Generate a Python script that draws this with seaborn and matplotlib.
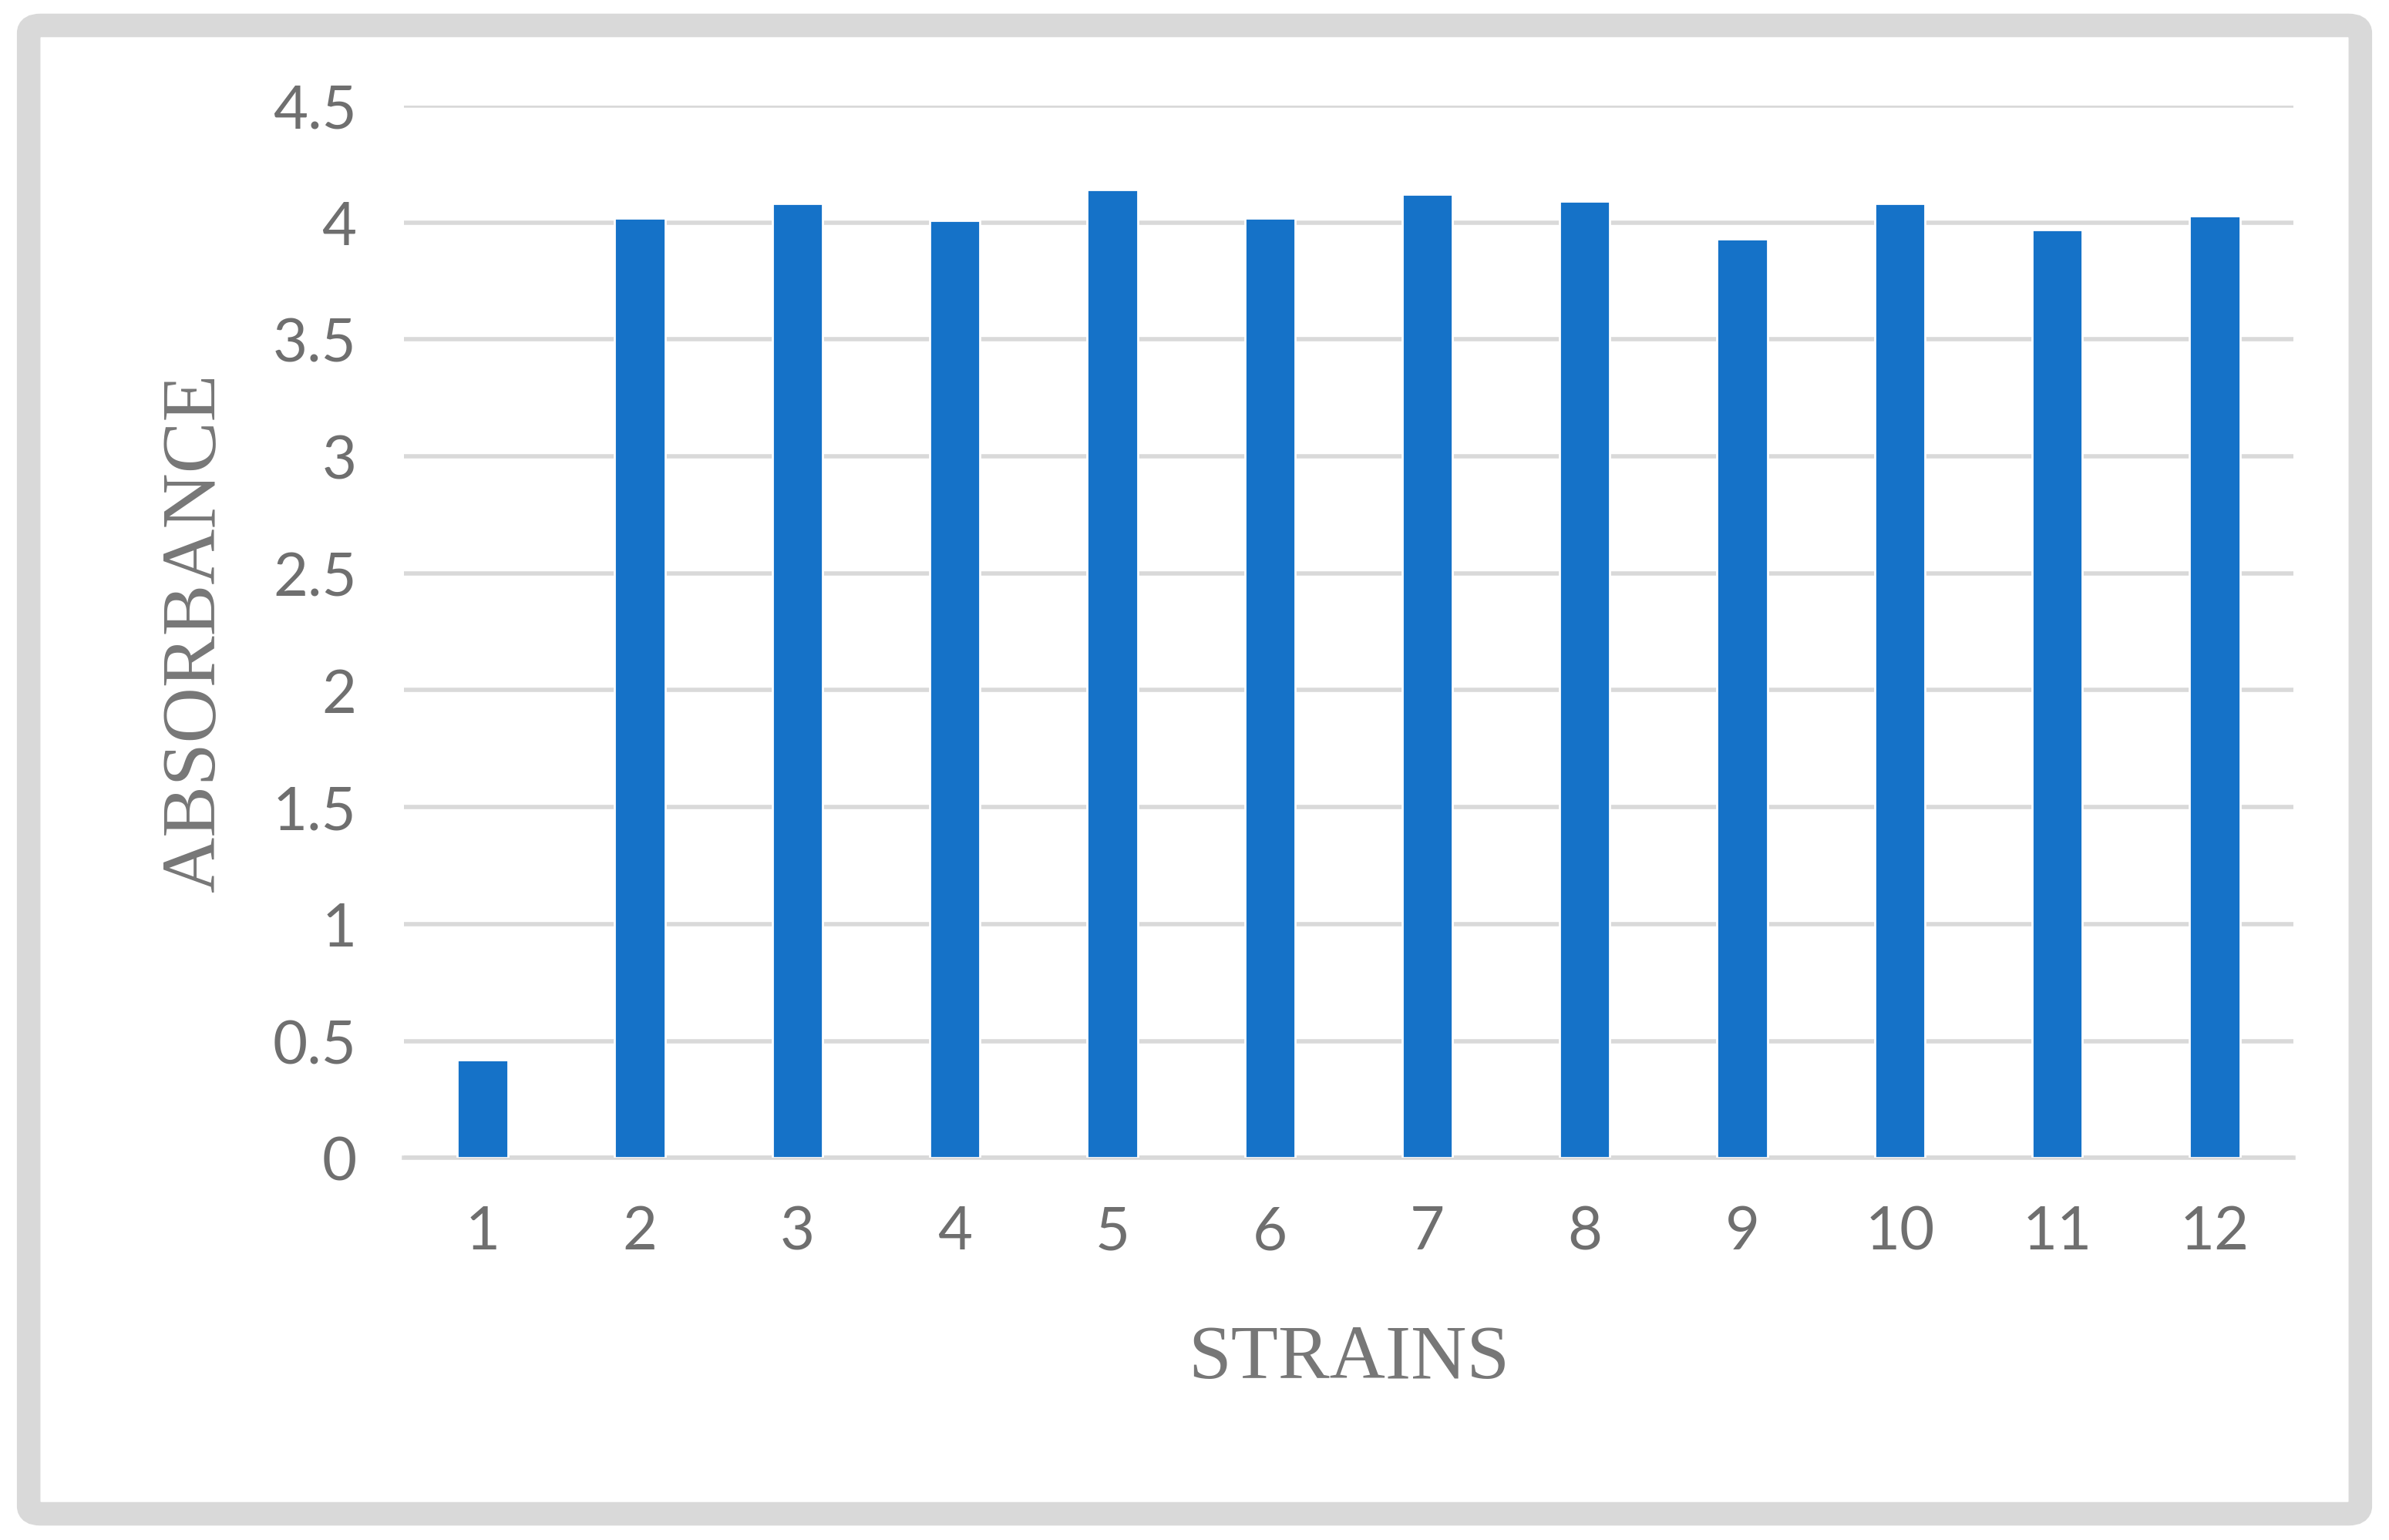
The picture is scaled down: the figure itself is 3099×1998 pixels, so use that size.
import matplotlib.pyplot as plt
import seaborn as sns
import pandas as pd
from matplotlib.patches import FancyBboxPatch

sns.set_style("white")

# Data
strains = ["1", "2", "3", "4", "5", "6", "7", "8", "9", "10", "11", "12"]
absorbance = [0.42, 4.02, 4.08, 4.01, 4.14, 4.02, 4.12, 4.09, 3.93, 4.08, 3.97, 4.03]
y_ticks = [0, 0.5, 1, 1.5, 2, 2.5, 3, 3.5, 4, 4.5]
y_tick_labels = ["0", "0.5", "1", "1.5", "2", "2.5", "3", "3.5", "4", "4.5"]

df = pd.DataFrame({"strain": strains, "absorbance": absorbance})

fig = plt.figure(figsize=(15.495, 9.995), dpi=200)

# grey frame around the whole chart
frame = FancyBboxPatch((0.012, 0.017), 0.976, 0.966, boxstyle="round,pad=0,rounding_size=0.005",
                       transform=fig.transFigure, facecolor="white", edgecolor="#d9d9d9",
                       linewidth=11, zorder=-10)
fig.patches.append(frame)

ax = fig.add_axes([0.169, 0.248, 0.791, 0.683])
ax.set_zorder(5)
ax.set_facecolor("none")
sns.barplot(data=df, x="strain", y="absorbance", color="#1572c8", saturation=1,
            width=0.32, ax=ax, zorder=3)

ax.set_ylim(0, 4.5)
ax.set_yticks(y_ticks)
ax.set_yticklabels(y_tick_labels)
ax.grid(axis="y", color="#d9d9d9", linewidth=2, zorder=0)
ax.set_axisbelow(True)
for s in ["top", "right", "left"]:
    ax.spines[s].set_visible(False)
ax.spines["bottom"].set_color("#d9d9d9")
ax.spines["bottom"].set_linewidth(2)
ax.tick_params(axis="both", length=0, labelsize=28, labelcolor="#6f6f6f", pad=22)
for lab in ax.get_xticklabels() + ax.get_yticklabels():
    lab.set_family(["Lato", "DejaVu Sans"])

ax.set_xlabel("STRAINS", fontsize=36, color="#777777", family="Liberation Serif", labelpad=30)
ax.set_ylabel("ABSORBANCE", fontsize=36, color="#777777", family="Liberation Serif", labelpad=20)

fig.savefig("out.png", dpi=200)
